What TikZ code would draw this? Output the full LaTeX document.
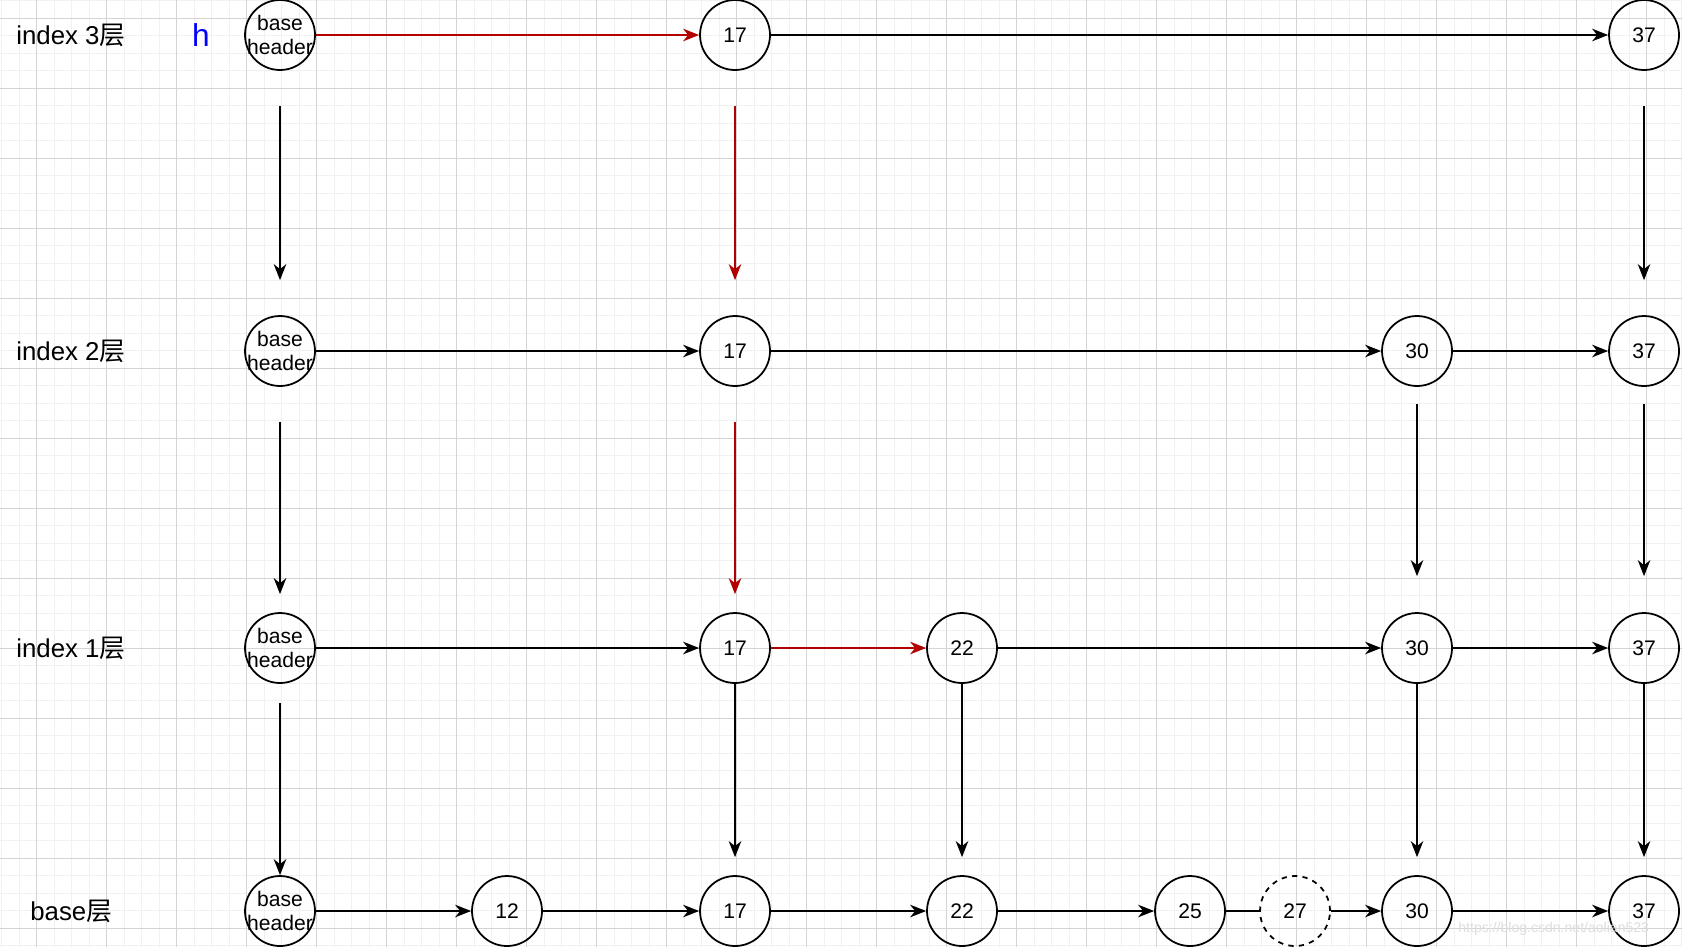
\documentclass[tikz,border=0pt]{standalone}
\usepackage{fontspec}
\setmainfont{Liberation Sans}
\newfontfamily\cjk{Noto Sans CJK SC}
\usetikzlibrary{arrows.meta}
\definecolor{gridmajor}{HTML}{D4D4D4}
\definecolor{gridminor}{HTML}{F1F1F1}
\definecolor{pathred}{HTML}{B20000}
\newcommand{\bhtext}{\makebox[0pt]{base}\\\makebox[0pt]{header}}
\tikzset{
  nd/.style={circle, draw, line width=1pt, minimum size=1.4cm, inner sep=0pt, font=\fontsize{12}{13.4}\selectfont, align=center},
  lnk/.style={line width=1pt, -{Stealth[length=0.32cm, width=0.25cm, inset=0.1cm]}},
  redlnk/.style={lnk, pathred},
  lvl/.style={anchor=west, inner sep=0pt, font=\fontsize{14.7}{17}\selectfont}
}
\begin{document}
\begin{tikzpicture}[x=0.02cm, y=-0.02cm]
\useasboundingbox (0,0) rectangle (1682,947);
\fill[white] (0,0) rectangle (1682,947);
\foreach \x in {1.7,19.2,...,1682} \draw[gridminor, line width=0.5pt] (\x,0) -- (\x,947);
\foreach \y in {0.8,18.3,...,947} \draw[gridminor, line width=0.5pt] (0,\y) -- (1682,\y);
\foreach \x in {36.7,106.7,...,1682} \draw[gridmajor, line width=0.5pt] (\x,0) -- (\x,947);
\foreach \y in {18.3,88.3,...,947} \draw[gridmajor, line width=0.5pt] (0,\y) -- (1682,\y);
\node[lvl] (l3) at (16,35) {index 3{\cjk 层}};
\node[lvl] (l2) at (16,351) {index 2{\cjk 层}};
\node[lvl] (l1) at (16,648) {index 1{\cjk 层}};
\node[lvl] (l0) at (30,911) {base{\cjk 层}};
\node[inner sep=0pt, blue, font=\fontsize{18}{20}\selectfont] (hd) at (201,35) {h};
\node[nd] (r3h) at (280,35) {\bhtext};
\node[nd] (r3n17) at (735,35) {17};
\node[nd] (r3n37) at (1644,35) {37};
\node[nd] (r2h) at (280,351) {\bhtext};
\node[nd] (r2n17) at (735,351) {17};
\node[nd] (r2n30) at (1417,351) {30};
\node[nd] (r2n37) at (1644,351) {37};
\node[nd] (r1h) at (280,648) {\bhtext};
\node[nd] (r1n17) at (735,648) {17};
\node[nd] (r1n22) at (962,648) {22};
\node[nd] (r1n30) at (1417,648) {30};
\node[nd] (r1n37) at (1644,648) {37};
\node[nd] (r0h) at (280,911) {\bhtext};
\node[nd] (r0n12) at (507,911) {12};
\node[nd] (r0n17) at (735,911) {17};
\node[nd] (r0n22) at (962,911) {22};
\node[nd] (r0n25) at (1190,911) {25};
\node[nd, dashed] (r0n27) at (1295,911) {27};
\node[nd] (r0n30) at (1417,911) {30};
\node[nd] (r0n37) at (1644,911) {37};
\draw[redlnk] (r3h) -- (r3n17);
\draw[lnk] (r3n17) -- (r3n37);
\draw[lnk] (r2h) -- (r2n17);
\draw[lnk] (r2n17) -- (r2n30);
\draw[lnk] (r2n30) -- (r2n37);
\draw[lnk] (r1h) -- (r1n17);
\draw[redlnk] (r1n17) -- (r1n22);
\draw[lnk] (r1n22) -- (r1n30);
\draw[lnk] (r1n30) -- (r1n37);
\draw[lnk] (r0h) -- (r0n12);
\draw[lnk] (r0n12) -- (r0n17);
\draw[lnk] (r0n17) -- (r0n22);
\draw[lnk] (r0n22) -- (r0n25);
\draw[line width=1pt] (r0n25) -- (r0n27);
\draw[lnk] (r0n27) -- (r0n30);
\draw[lnk] (r0n30) -- (r0n37);
\draw[lnk, shorten <=0.7cm, shorten >=0.7cm] (r3h) -- (r2h);
\draw[lnk, shorten <=0.7cm, shorten >=0.36cm] (r2h) -- (r1h);
\draw[lnk, shorten <=0.38cm] (r1h) -- (r0h);
\draw[redlnk, shorten <=0.7cm, shorten >=0.7cm] (r3n17) -- (r2n17);
\draw[redlnk, shorten <=0.7cm, shorten >=0.36cm] (r2n17) -- (r1n17);
\draw[lnk, shorten >=0.36cm] (r1n17) -- (r0n17);
\draw[lnk, shorten >=0.36cm] (r1n22) -- (r0n22);
\draw[lnk, shorten <=0.34cm, shorten >=0.72cm] (r2n30) -- (r1n30);
\draw[lnk, shorten >=0.36cm] (r1n30) -- (r0n30);
\draw[lnk, shorten <=0.7cm, shorten >=0.7cm] (r3n37) -- (r2n37);
\draw[lnk, shorten <=0.34cm, shorten >=0.72cm] (r2n37) -- (r1n37);
\draw[lnk, shorten >=0.36cm] (r1n37) -- (r0n37);
\node[anchor=west, inner sep=0pt, black!13, font=\fontsize{8}{9}\selectfont] (wm) at (1458,929) {https://blog.csdn.net/aolian523};
\end{tikzpicture}
\end{document}
